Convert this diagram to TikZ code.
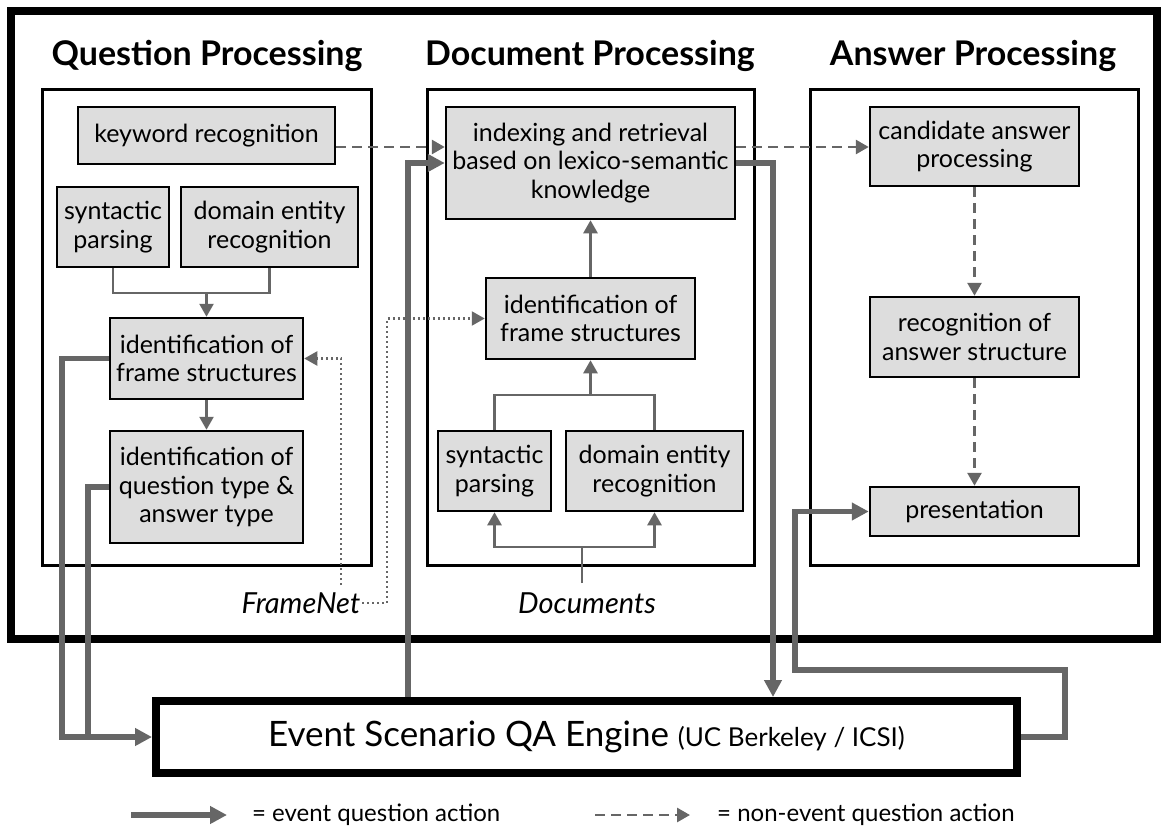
\documentclass[tikz,border=0pt]{standalone}
\usepackage{fontspec}
\setmainfont{Lato}
\usetikzlibrary{arrows.meta}
\definecolor{lg}{HTML}{DDDDDD}
\definecolor{dg}{HTML}{666666}
\begin{document}
\begin{tikzpicture}[x=1pt,y=-1pt,
  proc/.style={draw=black, line width=2.5pt, fill=lg, align=center, inner sep=0pt, font=\fontsize{25}{28.5}\selectfont},
  col/.style={draw=black, line width=3pt, inner sep=0pt},
  title/.style={font=\fontsize{34}{38}\selectfont\bfseries, anchor=base},
  thinc/.style={draw=dg, line width=2.5pt},
  thinarr/.style={thinc, -{Triangle[length=13pt,width=14pt]}},
  dashc/.style={draw=dg, line width=2.8pt, dash pattern=on 10pt off 6pt, -{Triangle[length=13pt,width=14pt]}},
  dotc/.style={draw=dg, line width=2.2pt, dash pattern=on 2pt off 3pt, -{Triangle[length=13pt,width=14pt]}},
  ev/.style={draw=dg, line width=5.5pt},
  evarr/.style={ev, -{Triangle[length=17pt,width=17pt]}},
  lbl/.style={font=\fontsize{29}{34}\selectfont\itshape, inner sep=2pt},
  legtxt/.style={font=\fontsize{24}{28}\selectfont, anchor=west, inner sep=0pt},
]
\useasboundingbox (0,0) rectangle (1161,829);
\fill[white] (0,0) rectangle (1161,829);

% outer frame
\draw[line width=8pt] (11,11) rectangle (1157,639);

% titles
\node[title] (tq) at (207,66) {Question Processing};
\node[title] (td) at (590,66) {Document Processing};
\node[title] (ta) at (973,66) {Answer Processing};

% column boxes
\node[col, minimum width=329pt, minimum height=475pt] (qp) at (206.5,327.5) {};
\node[col, minimum width=327pt, minimum height=475pt] (dp) at (590.5,327.5) {};
\node[col, minimum width=328pt, minimum height=475pt] (ap) at (974,327.5) {};

% question processing
\node[proc, minimum width=257pt, minimum height=57pt] (kw) at (206.5,135.5) {keyword recognition};
\node[proc, minimum width=112pt, minimum height=80pt] (qsyn) at (113,227) {syntactic\\parsing};
\node[proc, minimum width=177pt, minimum height=80pt] (qdom) at (269.5,227) {domain entity\\recognition};
\node[proc, minimum width=193pt, minimum height=81pt] (qframe) at (206.5,358.5) {identification of\\frame structures};
\node[proc, minimum width=193pt, minimum height=112pt] (qtype) at (206.5,487) {identification of\\question type \&\\answer type};

% document processing
\node[proc, minimum width=289pt, minimum height=112pt] (idx) at (590.5,163) {indexing and retrieval\\based on lexico-semantic\\knowledge};
\node[proc, minimum width=209pt, minimum height=81pt] (dframe) at (590.5,318.5) {identification of\\frame structures};
\node[proc, minimum width=113pt, minimum height=80pt] (dsyn) at (494.5,471) {syntactic\\parsing};
\node[proc, minimum width=177pt, minimum height=80pt] (ddom) at (654.5,471) {domain entity\\recognition};

% answer processing
\node[proc, minimum width=209pt, minimum height=79pt] (cand) at (974.5,146.5) {candidate answer\\processing};
\node[proc, minimum width=209pt, minimum height=80pt] (rec) at (974.5,337) {recognition of\\answer structure};
\node[proc, minimum width=209pt, minimum height=49pt] (pres) at (974.5,511.5) {presentation};

% labels
\node[lbl] (fn) at (301,603) {FrameNet};
\node[lbl] (docs) at (587,603) {Documents};

% engine
\node[draw=black, line width=8pt, minimum width=861pt, minimum height=72pt, inner sep=0pt] (eng) at (586.5,737)
  {\fontsize{35}{42}\selectfont Event Scenario QA Engine {\fontsize{26}{32}\selectfont(UC Berkeley / ICSI)}};

% thin connectors
\coordinate (qj) at (206.5,293);
\coordinate (dj) at (590.5,395);
\coordinate (docj) at (582,547);
\coordinate (dtop) at (582,583);
\draw[thinc] (qsyn.south) |- (qj);
\draw[thinc] (qdom.south) |- (qj);
\draw[thinarr] (qj) -- (qframe.north);
\draw[thinarr] (qframe.south) -- (qtype.north);
\draw[thinc] (dsyn.north) |- (dj);
\draw[thinc] (ddom.north) |- (dj);
\draw[thinarr] (dj) -- (dframe.south);
\draw[thinarr] (dframe.north) -- (idx.south);
\draw[thinc] (dtop) -- (docj);
\draw[thinarr] (docj) -| (dsyn.south);
\draw[thinarr] (docj) -| (ddom.south);

% dashed (non-event)
\coordinate (ya) at (0,147);
\draw[dashc] (kw.east |- ya) -- (idx.west |- ya);
\draw[dashc] (idx.east |- ya) -- (cand.west |- ya);
\draw[dashc] (cand.south) -- (rec.north);
\draw[dashc] (rec.south) -- (pres.north);

% dotted (FrameNet)
\coordinate (fa) at (341,585);
\coordinate (fb) at (387,318.5);
\draw[dotc] (fa) |- (qframe.east);
\draw[dotc] (fn.east) -| (fb) -- (dframe.west);

% event lines
\coordinate (e1) at (62,0);
\coordinate (e2) at (88,0);
\coordinate (e3) at (408,0);
\coordinate (e4) at (773,0);
\coordinate (e5) at (1065,670);
\coordinate (e6) at (795,670);
\draw[ev] (qtype.west) -| (e2 |- eng.west);
\draw[evarr] (qframe.west) -- (e1 |- qframe.west) -- (e1 |- eng.west) -- (eng.west);
\draw[evarr] (eng.north -| e3) |- (idx.west);
\draw[evarr] (idx.east) -| (eng.north -| e4);
\draw[evarr] (eng.east) -| (e5) -- (e6) |- (pres.west);

% legend
\coordinate (l1a) at (131,815);
\coordinate (l1b) at (227,815);
\coordinate (l2a) at (595,815);
\coordinate (l2b) at (690,815);
\draw[evarr] (l1a) -- (l1b);
\node[legtxt] (l1t) at (252,815) {= event question action};
\draw[dashc] (l2a) -- (l2b);
\node[legtxt] (l2t) at (717,815) {= non-event question action};
\end{tikzpicture}
\end{document}
